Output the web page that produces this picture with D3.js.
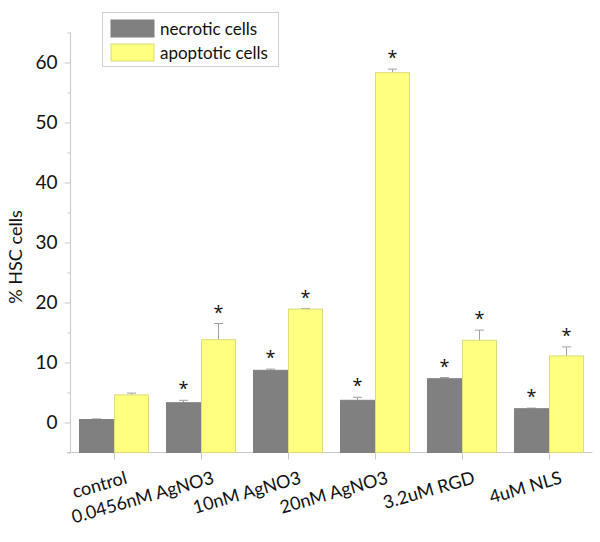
<!DOCTYPE html>
<html><head><meta charset="utf-8">
<script src="https://cdn.jsdelivr.net/npm/d3@7/dist/d3.min.js"></script>
<style>body{margin:0;background:#fff}svg{display:block}text{font-family:Lato,"Open Sans",sans-serif}</style>
</head><body>
<script>
const categories = ["control","0.0456nM AgNO3","10nM AgNO3","20nM AgNO3","3.2uM RGD","4uM NLS"];
const seriesNames = ["necrotic cells","apoptotic cells"];
const necrotic = [0.5, 3.3, 8.7, 3.7, 7.3, 2.3];
const necroticErr = [0.1, 0.4, 0.2, 0.5, 0.2, 0.1];
const apoptotic = [4.6, 13.8, 18.9, 58.3, 13.7, 11.1];
const apoptoticErr = [0.3, 2.7, 0.1, 0.6, 1.7, 1.5];
const necroticSig = [false, true, true, true, true, true];
const apoptoticSig = [false, true, true, true, true, true];
const yTicks = [0, 10, 20, 30, 40, 50, 60];
const yMinorTicks = [-5, 5, 15, 25, 35, 45, 55, 65];

const W = 600, H = 542;
const svg = d3.select("body").append("svg").attr("width", W).attr("height", H);

const y = d3.scaleLinear().domain([-5, 65]).range([452.5, 32.5]);
const x = d3.scalePoint().domain(categories).range([70.5, 592.5]).padding(0.5);
const barW = 35;
const axisColor = "#c8c8c8";

const series = [
  {name: seriesNames[0], vals: necrotic, err: necroticErr, sig: necroticSig, fill: "#808080", stroke: "#808080", off: -barW},
  {name: seriesNames[1], vals: apoptotic, err: apoptoticErr, sig: apoptoticSig, fill: "#ffff80", stroke: "#dcdc78", off: 0}
];

// y axis
const yAxis = svg.append("g").attr("transform", "translate(70.5,0)")
  .call(d3.axisLeft(y).tickValues(yTicks).tickSize(6).tickPadding(7).tickFormat(d3.format("d")));
yAxis.select(".domain").remove();
yAxis.selectAll(".tick line").attr("stroke", axisColor);
yAxis.selectAll(".tick text").attr("font-size", 19).attr("fill", "#111");
const yMinor = svg.append("g").attr("transform", "translate(70.5,0)")
  .call(d3.axisLeft(y).tickValues(yMinorTicks).tickSize(3).tickFormat(""));
yMinor.select(".domain").remove();
yMinor.selectAll(".tick line").attr("stroke", axisColor);
svg.append("line").attr("x1", 70.5).attr("x2", 70.5).attr("y1", y(65)).attr("y2", y(-5)).attr("stroke", axisColor);

// x axis
const xAxis = svg.append("g").attr("transform", `translate(0,${y(-5)})`)
  .call(d3.axisBottom(x).tickSize(7).tickFormat(""));
xAxis.select(".domain").remove();
xAxis.selectAll(".tick line").attr("stroke", axisColor);
svg.append("line").attr("x1", 67).attr("x2", 592.5).attr("y1", y(-5)).attr("y2", y(-5)).attr("stroke", axisColor);

// x labels
svg.append("g").selectAll("text").data(categories).join("text")
  .attr("transform", d => `translate(${x(d) + 14},483) rotate(-16)`)
  .attr("text-anchor", "end").attr("font-size", 18).attr("fill", "#111")
  .text(d => d);

// y label
svg.append("text").attr("transform", "translate(22,257) rotate(-90)")
  .attr("text-anchor", "middle").attr("font-size", 18).attr("fill", "#111").text("% HSC cells");

// bars
series.forEach(s => {
  const g = svg.append("g");
  categories.forEach((c, i) => {
    const bx = x(c) + s.off;
    const v = s.vals[i], e = s.err[i];
    g.append("line").attr("x1", bx + barW / 2).attr("x2", bx + barW / 2)
      .attr("y1", y(v)).attr("y2", y(v + e)).attr("stroke", "#a0a0a0");
    g.append("line").attr("x1", bx + barW / 2 - 4.5).attr("x2", bx + barW / 2 + 4.5)
      .attr("y1", y(v + e)).attr("y2", y(v + e)).attr("stroke", "#a0a0a0");
    g.append("rect").attr("x", bx + 0.5).attr("y", y(v)).attr("width", barW - 1)
      .attr("height", y(-5) - y(v)).attr("fill", s.fill).attr("stroke", s.stroke).attr("stroke-width", 1);
    if (s.sig[i]) {
      g.append("text").attr("x", bx + barW / 2).attr("y", y(v + e) - 15 + 10)
        .attr("text-anchor", "middle").style("font-size", "18px").style("font-family", "'Open Sans'")
        .attr("fill", "#111").text("*");
    }
  });
});

// legend
const lg = svg.append("g");
lg.append("rect").attr("x", 102.5).attr("y", 12.5).attr("width", 176).attr("height", 54)
  .attr("fill", "#fff").attr("stroke", "#d0d0d0");
series.forEach((s, i) => {
  const yy = 20 + i * 24;
  lg.append("rect").attr("x", 111).attr("y", yy).attr("width", 43).attr("height", 17)
    .attr("fill", s.fill).attr("stroke", s.stroke);
  lg.append("text").attr("x", 160).attr("y", yy + 15).attr("font-size", 17).attr("fill", "#111").text(s.name);
});
</script>
</body></html>
